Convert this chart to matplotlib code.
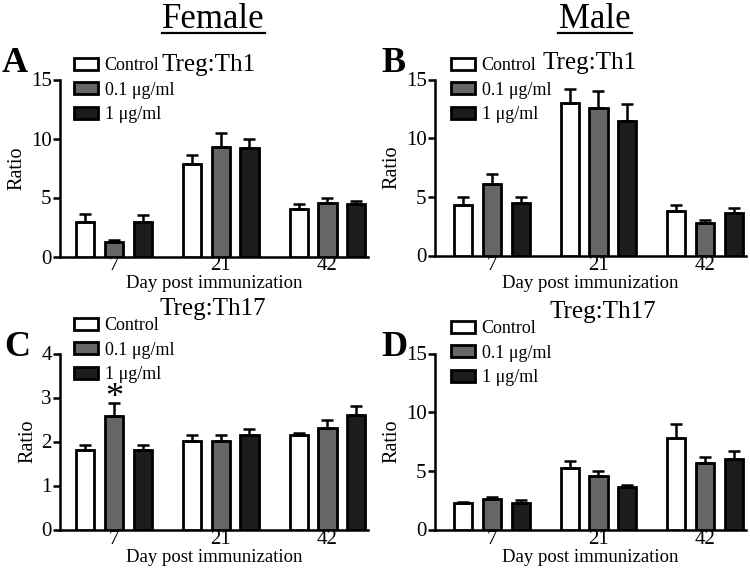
import matplotlib
matplotlib.use('Agg')
import matplotlib.pyplot as plt
from matplotlib.patches import Patch
from matplotlib.lines import Line2D
import numpy as np

plt.rcParams['font.family'] = ['Liberation Serif', 'DejaVu Serif']

days = ['7', '21', '42']
groups = ['Control', '0.1 μg/ml', '1 μg/ml']
colors = ['white', '#666666', '#1c1c1c']

# rows: Control, 0.1 ug/ml, 1 ug/ml ; columns: day 7, 21, 42
fem_th1 = [[2.89, 7.88, 4.02], [1.25, 9.26, 4.50], [2.92, 9.20, 4.48]]
fem_th1_err = [[0.74, 0.70, 0.40], [0.14, 1.22, 0.43], [0.62, 0.74, 0.25]]
male_th1 = [[4.27, 12.96, 3.79], [6.10, 12.56, 2.73], [4.50, 11.45, 3.59]]
male_th1_err = [[0.74, 1.24, 0.51], [0.82, 1.44, 0.26], [0.49, 1.43, 0.43]]
fem_th17 = [[1.81, 2.02, 2.14], [2.57, 2.02, 2.30], [1.80, 2.14, 2.61]]
fem_th17_err = [[0.12, 0.12, 0.06], [0.31, 0.13, 0.19], [0.13, 0.14, 0.19]]
male_th17 = [[2.22, 5.20, 7.81], [2.64, 4.52, 5.71], [2.27, 3.58, 5.97]]
male_th17_err = [[0.14, 0.62, 1.17], [0.14, 0.48, 0.45], [0.23, 0.23, 0.73]]

W, H = 750, 569
fig = plt.figure(figsize=(7.5, 5.69), dpi=100)


def rect(l, t, r, b):
    return [l / W, 1 - b / H, (r - l) / W, (b - t) / H]


def ftext(x, y, s, **kw):
    fig.text(x / W, 1 - y / H, s, **kw)


def panel(box, xlim, vals, errs, ymax, yticks, title, title_xy, letter, letter_xy, leg_xy):
    ax = fig.add_axes(rect(*box))
    x = np.arange(len(days))
    for i in range(3):
        ax.bar(x + (i - 1) * 0.27, vals[i], width=0.17, color=colors[i],
               edgecolor='black', linewidth=2, zorder=3,
               yerr=[np.zeros(3), errs[i]], capsize=4,
               error_kw=dict(elinewidth=1.8, capthick=1.8, ecolor='black'))
    ax.set_xlim(*xlim)
    ax.set_ylim(0, ymax)
    ax.set_yticks(yticks)
    ax.set_xticks(x)
    ax.set_xticklabels(days)
    for s in ['top', 'right']:
        ax.spines[s].set_visible(False)
    for s in ['left', 'bottom']:
        ax.spines[s].set_linewidth(1.8)
    ax.tick_params(axis='y', length=5, width=1.8, labelsize=15, pad=1)
    ax.tick_params(axis='x', length=0, labelsize=15, pad=0)
    ax.set_ylabel('Ratio', fontsize=14.5, labelpad=3)
    ax.set_xlabel('Day post immunization', fontsize=13.5, labelpad=0)
    ftext(title_xy[0], title_xy[1], title, fontsize=18, ha='center', va='center')
    ftext(letter_xy[0], letter_xy[1], letter, fontsize=26, fontweight='bold',
          ha='left', va='center')
    handles = [Patch(facecolor=colors[i], edgecolor='black', linewidth=2) for i in range(3)]
    ax.legend(handles, groups, loc='upper left',
              bbox_to_anchor=(leg_xy[0] / W, 1 - leg_xy[1] / H),
              bbox_transform=fig.transFigure, frameon=False, fontsize=13,
              handlelength=1.35, handleheight=0.65, handletextpad=0.35,
              labelspacing=0.42, borderpad=0, borderaxespad=0)
    return ax


panel((60, 79.5, 368, 256.5), (-0.505, 2.38), fem_th1, fem_th1_err, 15, [0, 5, 10, 15],
      'Treg:Th1', (209, 65), 'A', (2, 63), (74, 57))
panel((435, 79.5, 746, 255.5), (-0.533, 2.383), male_th1, male_th1_err, 15, [0, 5, 10, 15],
      'Treg:Th1', (590, 63), 'B', (381, 63), (451, 57))
axc = panel((60, 353.5, 368, 529.5), (-0.505, 2.38), fem_th17, fem_th17_err, 4, [0, 1, 2, 3, 4],
            'Treg:Th17', (213, 309), 'C', (4, 348), (74, 317))
panel((435, 353.5, 746, 529.5), (-0.533, 2.383), male_th17, male_th17_err, 15, [0, 5, 10, 15],
      'Treg:Th17', (603, 312), 'D', (381, 347), (451, 320))

# significance mark on 0.1 ug/ml at day 7
axc.text(0, fem_th17[1][0] + fem_th17_err[1][0] + 0.1, '*', fontsize=26,
         ha='center', va='center')

# column headers
for cx, label in [(213.5, 'Female'), (595, 'Male')]:
    ftext(cx, 28, label, fontsize=25, ha='center', va='baseline')
half = {'Female': 51.5, 'Male': 37}
for cx, label in [(213.5, 'Female'), (595, 'Male')]:
    fig.add_artist(Line2D([(cx - half[label]) / W, (cx + half[label]) / W],
                          [1 - 33 / H, 1 - 33 / H], color='black', linewidth=1.6,
                          transform=fig.transFigure))

fig.savefig('out.png', dpi=100)
